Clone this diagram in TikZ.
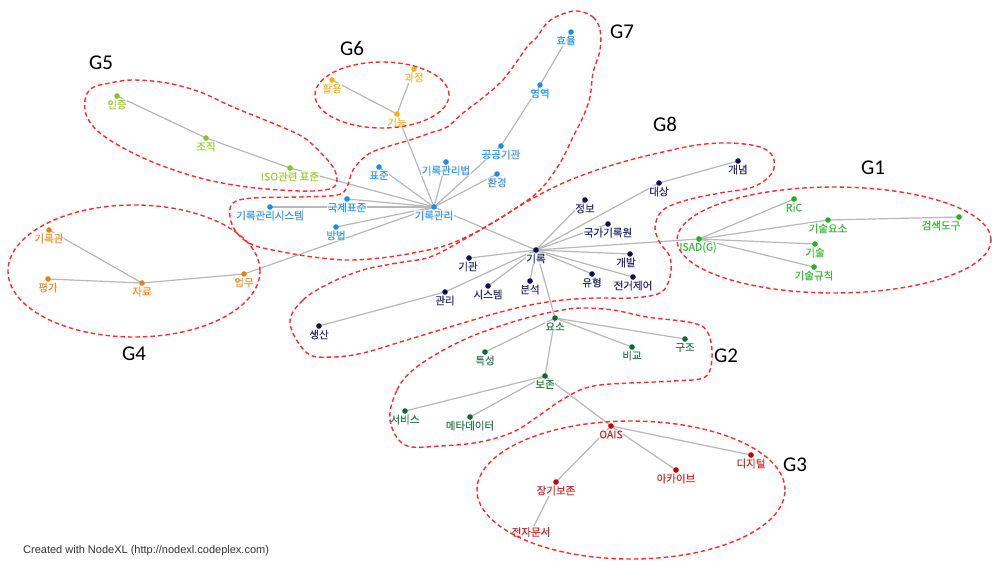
\documentclass[tikz,border=0pt]{standalone}
\usepackage{fontspec}
\setmainfont{Liberation Sans}
\newfontfamily\cjk[FakeBold=0.35]{Noto Sans CJK KR}
\newfontfamily\gfont{Carlito}
\pgfdeclarelayer{bgfill}
\pgfdeclarelayer{edges}
\pgfdeclarelayer{fg}
\pgfsetlayers{bgfill,edges,main,fg}
\definecolor{kdot}{HTML}{101050}\definecolor{klab}{HTML}{303070}
\definecolor{bdot}{HTML}{1E8CE8}\definecolor{blab}{HTML}{3C9CE8}
\definecolor{ydot}{HTML}{FFB000}\definecolor{ylab}{HTML}{F8B840}
\definecolor{vdot}{HTML}{8CC21E}\definecolor{vlab}{HTML}{A0CC40}
\definecolor{odot}{HTML}{E8820F}\definecolor{olab}{HTML}{EC9430}
\definecolor{gdot}{HTML}{1EB41E}\definecolor{glab}{HTML}{3CBC3C}
\definecolor{ddot}{HTML}{106A30}\definecolor{dlab}{HTML}{308050}
\definecolor{rdot}{HTML}{C80000}\definecolor{rlab}{HTML}{C83030}
\definecolor{edgegray}{HTML}{B8B8B8}
\definecolor{blobred}{HTML}{FF2A2A}
\newcommand\gnode[6][0]{%
  \node[dot,fill=#6dot] (#2) at (#3,#4) {};
  \node[lbl,text=#6lab] (#2-l) at ({#3+#1},{#4+8.5}) {#5};
}
\begin{document}
\begin{tikzpicture}[x=1pt,y=-1pt,
  dot/.style={circle,inner sep=0pt,minimum size=5.6pt,draw=none},
  lbl/.style={inner sep=0.6pt,fill=white,fill opacity=0.75,text opacity=1,
    font=\cjk\fontsize{10.5}{12}\selectfont},
  edge/.style={draw=edgegray,line width=1.2pt},
  blob/.style={draw=blobred,line width=1.4pt,dash pattern=on 4.5pt off 3pt},
  glabel/.style={font=\gfont\fontsize{21}{24}\selectfont,text=black,inner sep=0pt}]
\useasboundingbox (0,0) rectangle (992,560);
\begin{pgfonlayer}{bgfill}
\fill[white] (0,0) rectangle (992,560);
\end{pgfonlayer}
% navy group
\gnode{girok}{536}{250}{기록}{k}
\gnode{daesang}{659}{183}{대상}{k}
\gnode{gaenyeom}{738}{161}{개념}{k}
\gnode{jeongbo}{585}{200}{정보}{k}
\gnode{gukga}{608}{224}{국가기록원}{k}
\gnode[-4]{gaebal}{630}{254}{개발}{k}
\gnode{jeongeo}{633}{277}{전거제어}{k}
\gnode{yuhyeong}{592}{274}{유형}{k}
\gnode{bunseok}{530}{281}{분석}{k}
\gnode{system}{488}{286}{시스템}{k}
\gnode[-1]{gigwan}{469}{258}{기관}{k}
\gnode{gwanri}{445}{292}{관리}{k}
\gnode{saengsan}{319}{326}{생산}{k}
% blue group
\gnode{grm}{434}{207}{기록관리}{b}
\gnode{pyojun}{379}{167}{표준}{b}
\gnode{grmbeop}{446}{162}{기록관리법}{b}
\gnode{gonggong}{501}{146}{공공기관}{b}
\gnode{hwangyeong}{497}{174}{환경}{b}
\gnode{yeongyeok}{540}{85}{영역}{b}
\gnode[-5]{hyoyul}{571}{32}{효율}{b}
\gnode{gukje}{347}{199}{국제표준}{b}
\gnode{grmsys}{270}{207}{기록관리시스템}{b}
\gnode{bangbeop}{336}{227}{방법}{b}
% G6
\gnode{gineung}{397}{114}{기능}{y}
\gnode{hwaryong}{332}{80}{활용}{y}
\gnode{gwajeong}{414}{69}{과정}{y}
% G5
\gnode{injeung}{117}{96}{인증}{v}
\gnode{jojik}{206}{138}{조직}{v}
\gnode{iso}{290}{168}{ISO관련 표준}{v}
% G4
\gnode{girokgwan}{49}{230}{기록관}{o}
\gnode{pyeongga}{48}{279}{평가}{o}
\gnode{jaryo}{142}{283}{자료}{o}
\gnode{eopmu}{244}{274}{업무}{o}
% G1
\gnode[-1]{isad}{699}{239}{ISAD(G)}{g}
\gnode{ric}{794}{199}{RiC}{g}
\gnode{gisulyoso}{828}{220}{기술요소}{g}
\gnode[-18]{geomsaek}{959}{217}{검색도구}{g}
\gnode{gisul}{815}{244}{기술}{g}
\gnode{gisulgyu}{814}{267}{기술규칙}{g}
% G2
\gnode{yoso}{555}{318}{요소}{d}
\gnode{gujo}{685}{339}{구조}{d}
\gnode{bigyo}{632}{347}{비교}{d}
\gnode{teukseong}{485}{352}{특성}{d}
\gnode{bojon}{545}{376}{보존}{d}
\gnode{service}{405}{411}{서비스}{d}
\gnode{meta}{470}{417}{메타데이터}{d}
% G3
\gnode{oais}{611}{426}{OAIS}{r}
\gnode{digital}{751}{455}{디지털}{r}
\gnode{archive}{676}{470}{아카이브}{r}
\gnode{janggi}{556}{482}{장기보존}{r}
\coordinate (jeonja) at (534,526);
\node[lbl,text=rlab] (jeonja-l) at (531,532) {전자문서};
% edges
\begin{pgfonlayer}{edges}
\foreach \a/\b in {grm/girok,girok/daesang,daesang/gaenyeom,girok/jeongbo,girok/gukga,
  girok/isad,girok/gaebal,girok/jeongeo,girok/yuhyeong,girok/bunseok,girok/system,
  girok/gigwan,girok/gwanri,gwanri/saengsan,girok/yoso,
  grm/gineung,gineung/hwaryong,gineung/gwajeong,grm/pyojun,grm/grmbeop,grm/gonggong,
  gonggong/yeongyeok,yeongyeok/hyoyul,grm/hwangyeong,grm/iso,iso/jojik,jojik/injeung,
  grm/gukje,grm/grmsys,grm/bangbeop,grm/eopmu,eopmu/jaryo,jaryo/girokgwan,jaryo/pyeongga,
  isad/ric,isad/gisulyoso,gisulyoso/geomsaek,isad/gisul,isad/gisulgyu,
  yoso/teukseong,yoso/bigyo,yoso/gujo,yoso/bojon,bojon/service,bojon/meta,bojon/oais,
  oais/digital,oais/archive,oais/janggi}
  \draw[edge] (\a.center) -- (\b.center);
\draw[edge] (janggi.center) -- (jeonja);
\end{pgfonlayer}
% group outlines
\begin{pgfonlayer}{fg}
\draw[blob] (834,240) ellipse [x radius=157pt, y radius=53pt];
\draw[blob] (631,490) ellipse [x radius=154pt, y radius=69pt];
\draw[blob] (134,271) ellipse [x radius=126pt, y radius=66pt];
\draw[blob] (382,95) ellipse [x radius=67pt, y radius=33pt];
\draw[blob] plot[smooth cycle,tension=0.6] coordinates {(233,107) (277,125) (303,137) (320,152) (333,167) (337,180) (332,188) (313,191) (280,190) (240,186) (200,178) (160,165) (127,150) (100,133) (87,117) (85,100) (92,88) (110,83) (133,80) (167,83) (200,92)};
\draw[blob] plot[smooth cycle,tension=0.6] coordinates {(577,11) (593,17) (600,30) (600,50) (593,73) (590,97) (583,117) (573,137) (560,163) (540,190) (513,210) (480,230) (447,245) (413,253) (380,258) (347,260) (313,257) (283,252) (253,245) (237,233) (230,217) (233,203) (253,198) (300,197) (337,195) (347,187) (353,170) (367,155) (383,148) (410,140) (430,133) (447,127) (463,113) (480,100) (500,83) (513,67) (527,47) (537,37) (547,23) (560,15)};
\draw[blob] plot[smooth cycle,tension=0.6] coordinates {(290,323) (303,300) (330,283) (363,270) (397,263) (430,257) (463,240) (497,220) (530,200) (563,183) (597,170) (630,160) (663,152) (697,145) (730,143) (760,147) (773,157) (772,173) (753,187) (720,193) (687,200) (663,210) (655,227) (660,243) (670,257) (670,277) (660,293) (630,298) (597,298) (563,300) (530,305) (497,313) (463,323) (430,333) (397,343) (363,353) (333,357) (307,353)};
\draw[blob] plot[smooth cycle,tension=0.6] coordinates {(390,420) (397,390) (413,370) (440,352) (470,337) (500,326) (530,317) (557,311) (580,308) (613,310) (647,317) (693,323) (708,333) (712,357) (705,377) (673,381) (630,383) (600,385) (580,390) (557,403) (537,417) (513,432) (480,442) (440,446) (405,445)};
\end{pgfonlayer}
% group labels
\node[glabel] (G1) at (873,168) {G1};
\node[glabel] (G2) at (726,356) {G2};
\node[glabel] (G3) at (795,465) {G3};
\node[glabel] (G4) at (134,354) {G4};
\node[glabel] (G5) at (101,63) {G5};
\node[glabel] (G6) at (352,48) {G6};
\node[glabel] (G7) at (622,32) {G7};
\node[glabel] (G8) at (665,124) {G8};
\node[anchor=west,inner sep=0pt,text=black!80,font=\fontsize{11}{13}\selectfont] (credit) at (23,551) {Created with NodeXL (http://nodexl.codeplex.com)};
\end{tikzpicture}
\end{document}
